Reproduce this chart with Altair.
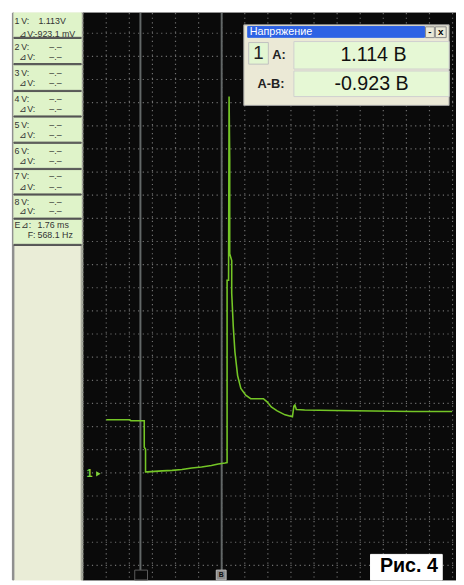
import altair as alt
import pandas as pd

# ---------------- values ----------------
# Channel 1 trace: time in ms (cursor B = 0), voltage in V
trace_time_ms = [-2.500, -1.989, -1.968, -1.677, -1.677, -1.649, -1.649, -1.606, -1.287, -1.074,
                 -0.862, -0.649, -0.436, -0.223, -0.074, 0.074, 0.117, 0.117, 0.149, 0.160,
                 0.174, 0.174, 0.217, 0.217, 0.251, 0.287, 0.345, 0.415, 0.521, 0.628,
                 0.904, 0.989, 1.074, 1.202, 1.372, 1.532, 1.564, 1.585, 1.617, 1.798,
                 2.436, 3.287, 4.138, 4.989]
trace_volts = [1.146, 1.146, 1.125, 1.125, 0.552, 0.510, 0.021, 0.021, 0.042, 0.053,
               0.074, 0.106, 0.127, 0.159, 0.191, 0.212, 0.223, 4.161, 4.161, 8.132,
               6.773, 4.735, 4.586, 3.885, 3.163, 2.611, 2.102, 1.826, 1.677, 1.603,
               1.603, 1.529, 1.423, 1.338, 1.253, 1.210, 1.444, 1.465, 1.369, 1.359,
               1.348, 1.338, 1.327, 1.327]

cursor_times_ms = [-1.76, 0.0]          # cursors A and B (delta = 1.76 ms)

grid_time_ms = [-3.0, -2.5, -2.0, -1.5, -1.0, -0.5, 0.0, 0.5, 1.0, 1.5, 2.0, 2.5,
                3.0, 3.5, 4.0, 4.5, 5.0]
grid_volts = [-2.0, -1.5, -1.0, -0.5, 0.0, 0.5, 1.0, 1.5, 2.0, 2.5, 3.0, 3.5, 4.0, 4.5,
              5.0, 5.5, 6.0, 6.5, 7.0, 7.5, 8.0, 8.5, 9.0, 9.5]

channel_ids = ["1", "2", "3", "4", "5", "6", "7", "8"]
channel_v = ["1.113V", "–.–", "–.–", "–.–", "–.–", "–.–", "–.–", "–.–"]
channel_dv = ["-923.1 mV", "–.–", "–.–", "–.–", "–.–", "–.–", "–.–", "–.–"]
period_text = "1.76 ms"
freq_text = "568.1 Hz"
dialog_title = "Напряжение"
reading_a = "1.114 В"
reading_ab = "-0.923 В"
figure_label = "Рис. 4"

# ---------------- layout ----------------
W, H = 456, 577
X_SCALE = alt.Scale(domain=[-3, 5], range=[76.5, 452.5], nice=False, zero=False)
Y_SCALE = alt.Scale(domain=[-2, 9.5], range=[562.2, 20.55], nice=False, zero=False)
FONT = "Liberation Sans"
TRACE = "#74c626"

ROW_V_Y = [8, 34.2, 60.8, 87.2, 113.6, 140.2, 166.4, 192.4]
ROW_DV_Y = [21.5, 44.8, 71.2, 97.6, 124, 150.6, 176.8, 202]
SEPS = [25.3, 52, 79.3, 105.3, 132, 158.7, 184.7, 209.3, 236]


def rects(rows):
    df = pd.DataFrame(rows, columns=["x", "x2", "y", "y2", "fill", "stroke"])
    return alt.Chart(df).mark_rect(strokeWidth=1).encode(
        x=alt.X("x:Q", scale=None, axis=None), x2="x2:Q",
        y=alt.Y("y:Q", scale=None, axis=None), y2="y2:Q",
        color=alt.Color("fill:N", scale=None, legend=None),
        stroke=alt.Stroke("stroke:N", scale=None, legend=None),
    )


def texts(rows, size, color, align="left", weight="normal"):
    df = pd.DataFrame(rows, columns=["x", "y", "t"])
    return alt.Chart(df).mark_text(
        fontSize=size, color=color, align=align, baseline="middle",
        fontWeight=weight, font=FONT,
    ).encode(
        x=alt.X("x:Q", scale=None, axis=None),
        y=alt.Y("y:Q", scale=None, axis=None),
        text="t:N",
    )


under = rects(
    [(76, 456, 0, 577, "#0a0a0a", "#0a0a0a"),
     (5, 76, 0, 577, "#eaedd7", "#eaedd7"),
     (4.5, 6, 0, 577, "#8c8c8c", "#8c8c8c"),
     (74.5, 76, 0, 577, "#a4a69a", "#a4a69a"),
     (6, 74.5, 0, 236, "#dff3c9", "#dff3c9")]
    + [(6, 74.5, s - 0.6, s + 0.6, "#555555", "#555555") for s in SEPS]
)

panel_rows = []
for i, cid in enumerate(channel_ids):
    vx = 31 if i == 0 else 42
    dx = 27 if i == 0 else 42
    panel_rows += [
        (6.5, ROW_V_Y[i], cid), (13.5, ROW_V_Y[i], "V:"), (vx, ROW_V_Y[i], channel_v[i]),
        (11.5, ROW_DV_Y[i], "⊿V:"), (dx, ROW_DV_Y[i], channel_dv[i]),
    ]
panel_rows += [(6.5, 215.5, "E"), (13, 215.5, "⊿:"), (30, 215.5, period_text),
               (20, 226, "F:"), (30, 226, freq_text)]
panel_text = texts(panel_rows, 9, "#333333")

trace_df = pd.DataFrame({"t": trace_time_ms, "v": trace_volts, "i": range(len(trace_volts))})
vgrid = alt.Chart(pd.DataFrame({"t": grid_time_ms})).mark_rule(
    color="#707070", strokeWidth=1.2, strokeDash=[1.2, 3.5]
).encode(x=alt.X("t:Q", scale=X_SCALE, axis=None), y=alt.value(0), y2=alt.value(H))
hgrid = alt.Chart(pd.DataFrame({"v": grid_volts})).mark_rule(
    color="#707070", strokeWidth=1.2, strokeDash=[1.2, 3.5]
).encode(y=alt.Y("v:Q", scale=Y_SCALE, axis=None), x=alt.value(76), x2=alt.value(W))
cursors = alt.Chart(pd.DataFrame({"t": cursor_times_ms})).mark_rule(
    color="#626767", strokeWidth=2
).encode(x=alt.X("t:Q", scale=X_SCALE, axis=None), y=alt.value(0), y2=alt.value(567))
trace = alt.Chart(trace_df).mark_line(color=TRACE, strokeWidth=1.6).encode(
    x=alt.X("t:Q", scale=X_SCALE, axis=None),
    y=alt.Y("v:Q", scale=Y_SCALE, axis=None),
    order="i:Q",
)

marker_txt = texts([(80, 469, "1")], 11, "#7fd23a", weight="bold")
marker_tri = alt.Chart(pd.DataFrame({"a": [0]})).mark_point(
    shape="triangle-right", filled=True, color="#7fd23a", size=28, opacity=1
).encode(x=alt.value(92), y=alt.value(469))

over = rects([
    (240, 449, 12, 94, "#ebe9d6", "#a0a0a0"),
    (244, 424, 13.7, 24.7, "#2d62e4", "#2d62e4"),
    (425, 434, 14, 25, "#ebe9d6", "#888888"),
    (435, 446, 14, 25, "#ebe9d6", "#888888"),
    (245, 265, 30, 52, "#e3f6d2", "#c0c0c0"),
    (291, 449, 29, 57, "#e6f8d5", "#cfcfcf"),
    (291, 449, 59, 85, "#e6f8d5", "#cfcfcf"),
    (369, 442, 551, 577, "#ffffff", "#ffffff"),
    (129, 142, 567, 577, "#0a0a0a", "#5c5c5c"),
    (212, 222, 567, 577, "#8d8d8d", "#c0c0c0"),
])

title_txt = texts([(246, 19.5, dialog_title)], 11, "#ffffff")
btn_txt = texts([(429.5, 19, "-"), (440.5, 19, "x")], 10, "#000000", align="center", weight="bold")
cell_txt = texts([(255, 41, "1")], 19, "#222222", align="center")
label_txt = texts([(269, 43, "A:"), (254, 72, "A-B:")], 13, "#222222", weight="bold")
value_txt = texts([(372, 43, reading_a), (370, 72, reading_ab)], 20, "#111111", align="center")
fig_txt = texts([(408, 563, figure_label)], 20, "#000000", align="center", weight="bold")
curb_txt = texts([(217, 572, "B")], 7, "#111111", align="center", weight="bold")

chart = alt.layer(
    under, panel_text, vgrid, hgrid, cursors, trace, marker_txt, marker_tri,
    over, title_txt, btn_txt, cell_txt, label_txt, value_txt, fig_txt, curb_txt,
).resolve_scale(x="independent", y="independent").properties(
    width=W, height=H, autosize=alt.AutoSizeParams(type="none"), padding=0,
).configure(background="#ffffff", font=FONT).configure_view(stroke=None)

chart.save("out.html", embed_options={"renderer": "svg", "actions": False})
